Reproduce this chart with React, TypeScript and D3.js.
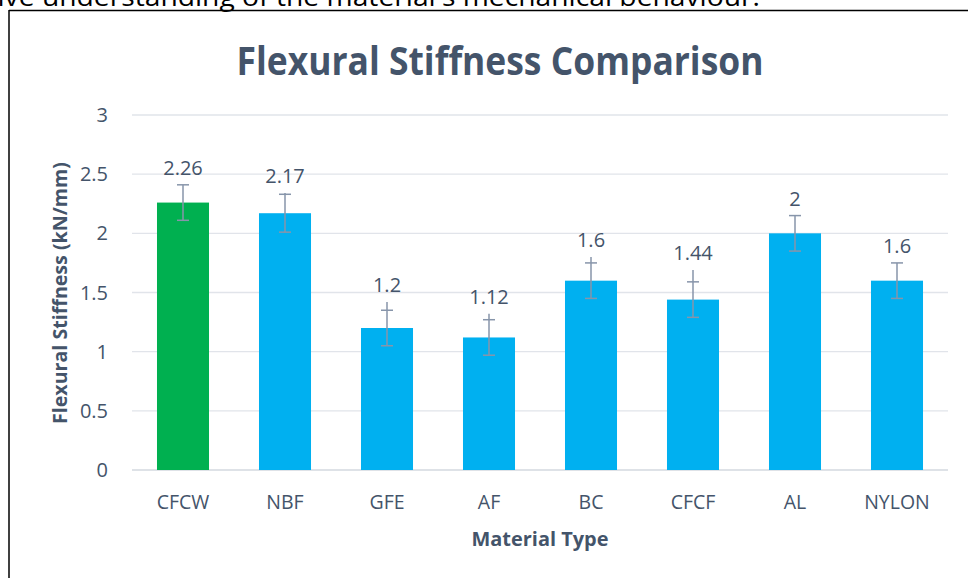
import React from "react";
import * as d3 from "d3";

const categories = ["CFCW", "NBF", "GFE", "AF", "BC", "CFCF", "AL", "NYLON"];
const values = [2.26, 2.17, 1.2, 1.12, 1.6, 1.44, 2, 1.6];
const errors = [0.15, 0.16, 0.15, 0.15, 0.15, 0.15, 0.15, 0.15];
const errorsUpperReach = [0.15, 0.17, 0.22, 0.2, 0.2, 0.25, 0.15, 0.15];
const barColors = ["#00B050", "#00B0F0", "#00B0F0", "#00B0F0", "#00B0F0", "#00B0F0", "#00B0F0", "#00B0F0"];
const yTicks = [0, 0.5, 1, 1.5, 2, 2.5, 3];

const W = 968;
const H = 578;
const FONT = "'Open Sans', Calibri, sans-serif";
const TXT = "#44546A";
const ERR = "#8795AA";

export default function App() {
  const x = d3.scaleBand<string>().domain(categories).range([132, 948]).paddingInner(0.49).paddingOuter(0.245);
  const y = d3.scaleLinear().domain([0, 3]).range([470, 115]);

  return (
    <svg width={W} height={H} style={{ position: "absolute", left: 0, top: 0, background: "#fff" }}>
      <rect x={0} y={0} width={W} height={H} fill="#fff" />
      <text x={-16} y={6} fontFamily="'Open Sans', sans-serif" fontSize={26} fill="#000" textLength={776} lengthAdjust="spacingAndGlyphs">
        sive understanding of the material's mechanical behaviour.
      </text>
      <line x1={9} x2={W} y1={10.5} y2={10.5} stroke="#000" strokeWidth={1.5} />
      <line x1={9} x2={9} y1={10} y2={H} stroke="#000" strokeWidth={1.5} />

      <text x={500} y={75} textAnchor="middle" fontFamily={FONT} fontWeight="bold" fontSize={39} fill={TXT} textLength={527} lengthAdjust="spacingAndGlyphs">
        Flexural Stiffness Comparison
      </text>

      {yTicks.map((t) => (
        <g key={t}>
          <line x1={132} x2={948} y1={y(t)} y2={y(t)} stroke={t === 0 ? "#D3D8DF" : "#E1E4EA"} strokeWidth={1.3} />
          <text x={108} y={y(t) + 7} textAnchor="end" fontFamily={FONT} fontSize={20} fill={TXT}>
            {t}
          </text>
        </g>
      ))}

      {categories.map((c, i) => {
        const bx = x(c)!;
        const cx = bx + x.bandwidth() / 2;
        const v = values[i];
        const e = errors[i];
        const reach = errorsUpperReach[i];
        return (
          <g key={c}>
            <rect x={bx} y={y(v)} width={x.bandwidth()} height={y(0) - y(v)} fill={barColors[i]} />
            <line x1={cx} x2={cx} y1={y(v + reach)} y2={y(v - e)} stroke={ERR} strokeWidth={1.5} />
            <line x1={cx - 6} x2={cx + 6} y1={y(v + e)} y2={y(v + e)} stroke={ERR} strokeWidth={1.5} />
            <line x1={cx - 6} x2={cx + 6} y1={y(v - e)} y2={y(v - e)} stroke={ERR} strokeWidth={1.5} />
            <text x={cx} y={y(v + reach) - 10} textAnchor="middle" fontFamily={FONT} fontSize={20} fill={TXT}>
              {v}
            </text>
            <text x={cx} y={509} textAnchor="middle" fontFamily={FONT} fontSize={19.5} fill={TXT}>
              {c}
            </text>
          </g>
        );
      })}

      <text x={540} y={546} textAnchor="middle" fontFamily={FONT} fontWeight="bold" fontSize={19.5} fill={TXT} textLength={137} lengthAdjust="spacingAndGlyphs">
        Material Type
      </text>
      <text
        transform={`translate(67,293) rotate(-90)`}
        textAnchor="middle"
        fontFamily={FONT}
        fontWeight="bold"
        fontSize={19.5}
        fill={TXT}
        textLength={262}
        lengthAdjust="spacingAndGlyphs"
      >
        Flexural Stiffness (kN/mm)
      </text>
    </svg>
  );
}
